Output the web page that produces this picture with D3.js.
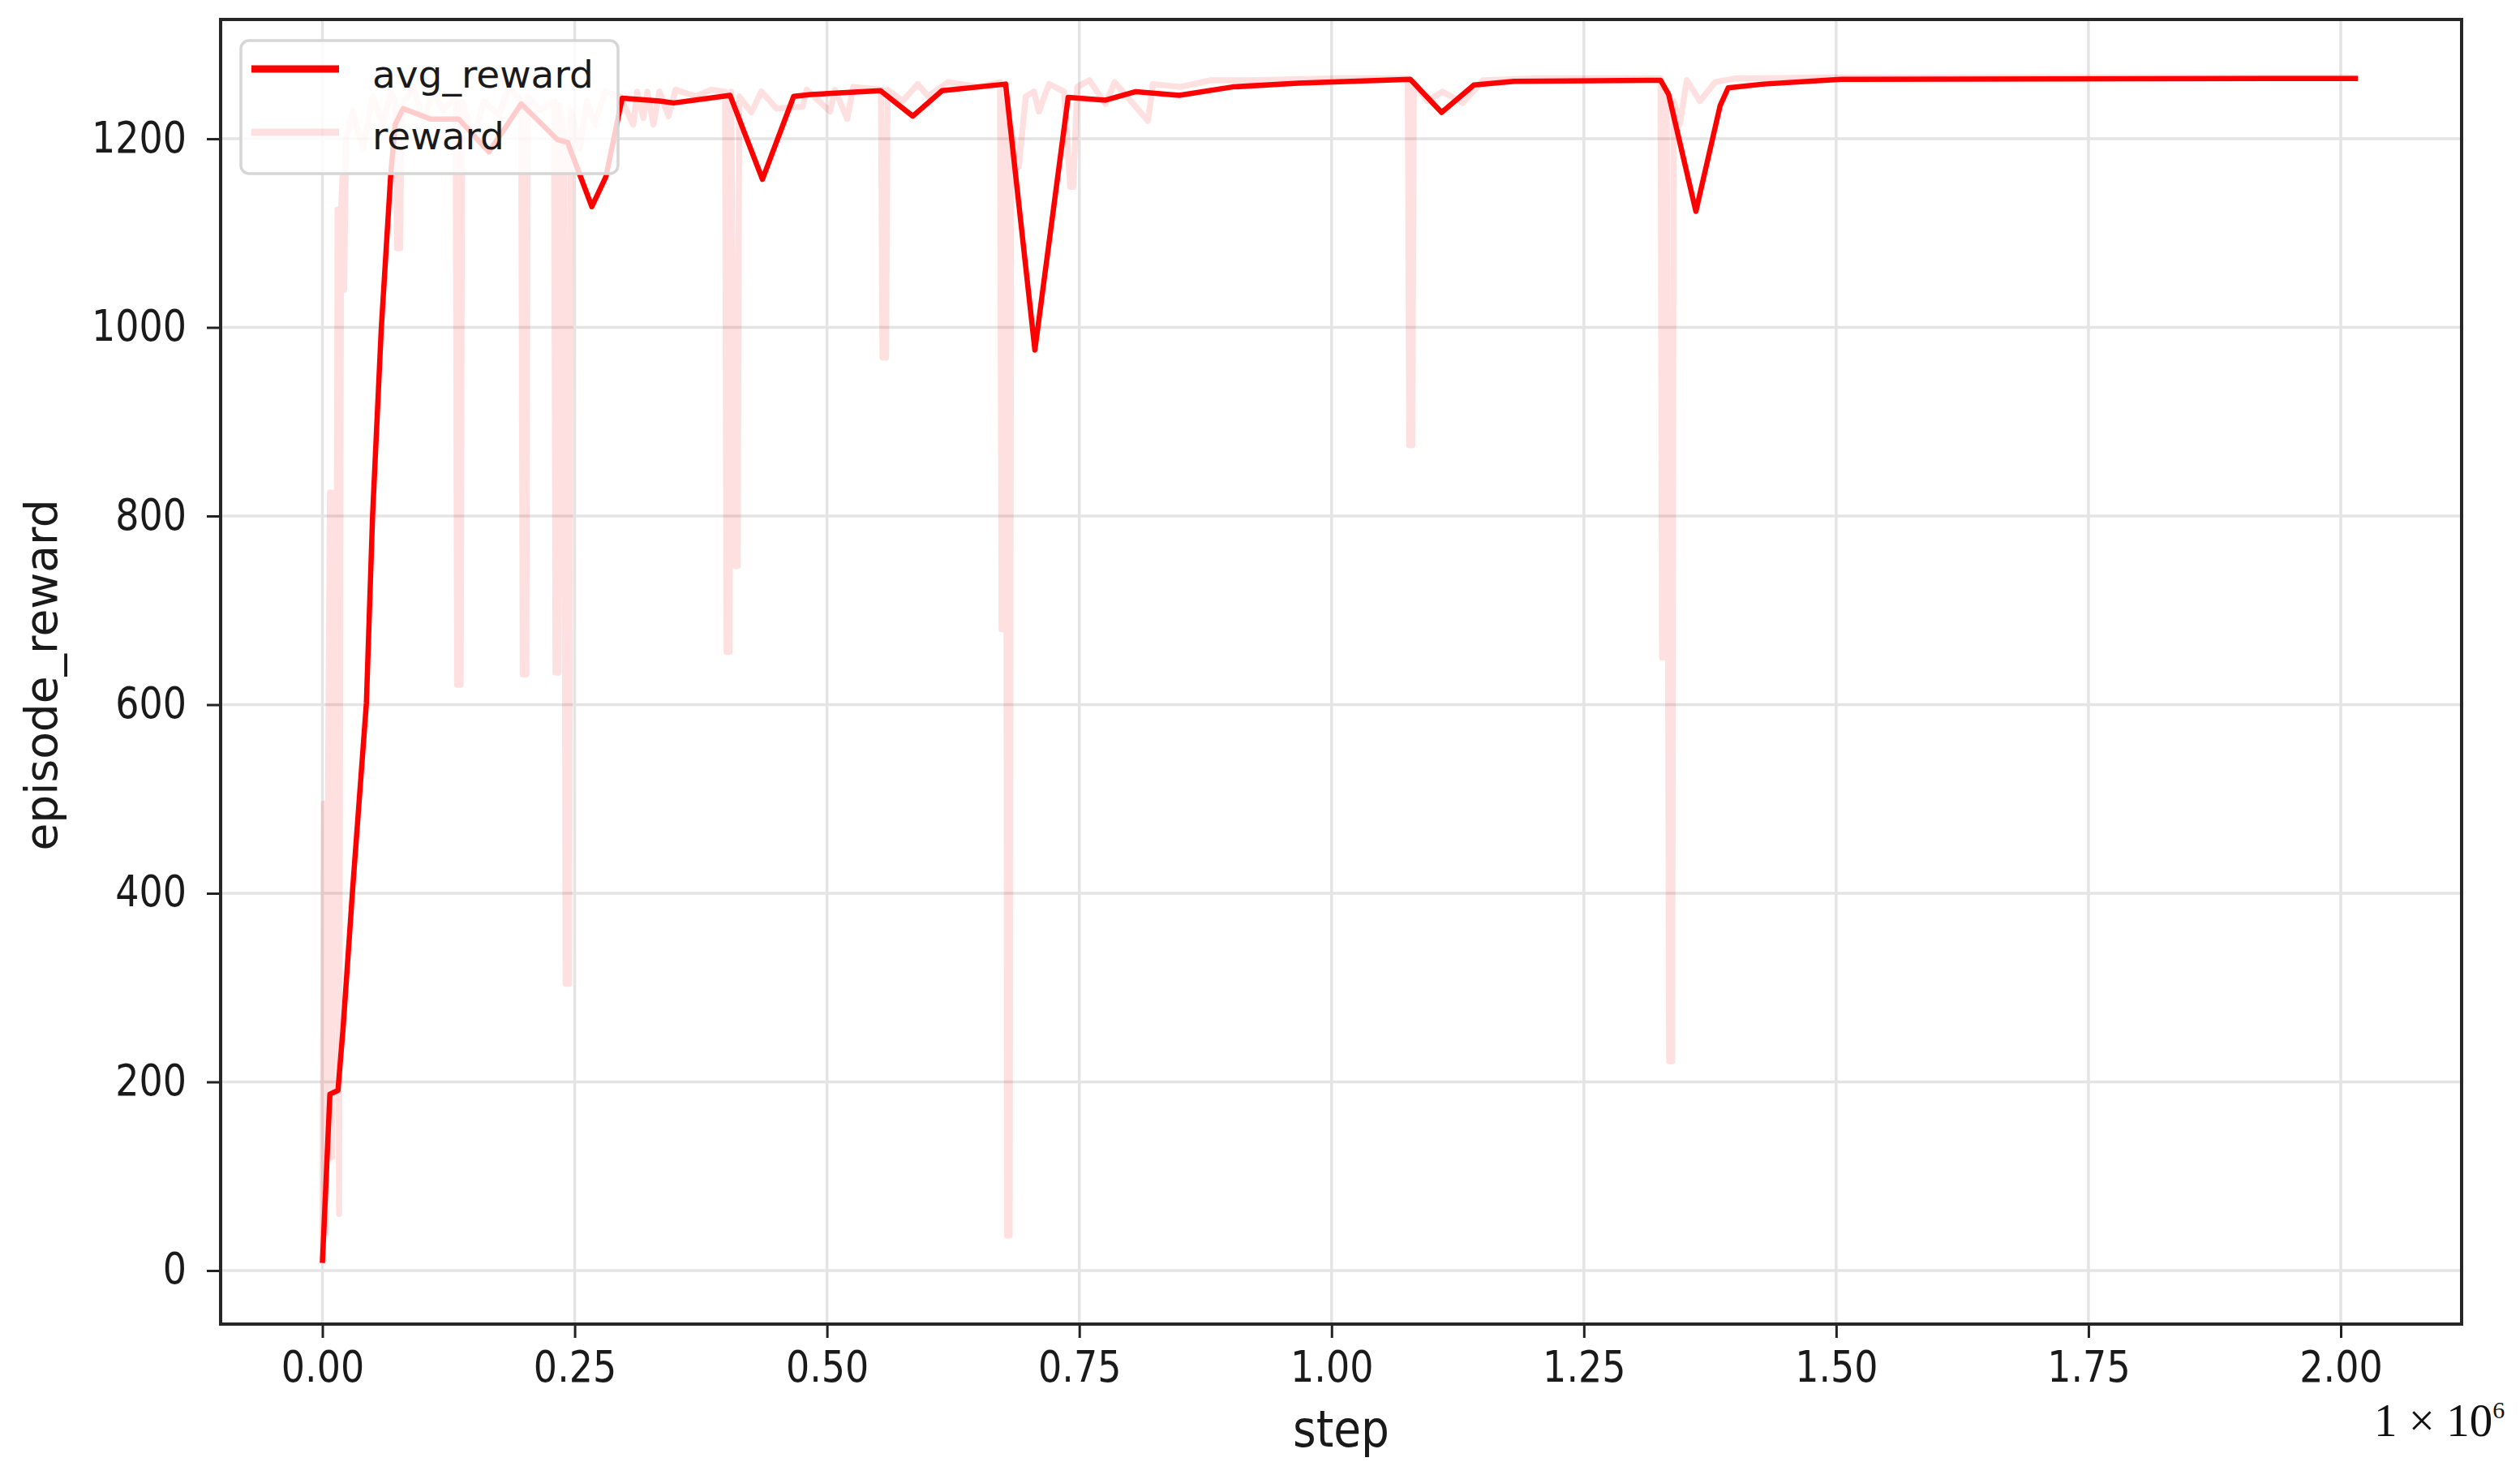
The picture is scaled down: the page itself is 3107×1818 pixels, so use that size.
<!DOCTYPE html>
<html>
<head>
<meta charset="utf-8">
<script src="https://cdn.jsdelivr.net/npm/d3@7"></script>
<style>
  html, body { margin: 0; padding: 0; background: #ffffff; }
  svg { display: block; }
</style>
</head>
<body>
<svg id="chart" width="3107" height="1818"></svg>
<script>
// ---------------- data ----------------
const xTickValues = [0, 250000, 500000, 750000, 1000000, 1250000, 1500000, 1750000, 2000000];
const xTickLabels = ["0.00", "0.25", "0.50", "0.75", "1.00", "1.25", "1.50", "1.75", "2.00"];
const yTickValues = [0, 200, 400, 600, 800, 1000, 1200];
const yTickLabels = ["0", "200", "400", "600", "800", "1000", "1200"];

const seriesNames = ["avg_reward", "reward"];

// avg_reward (solid red)
const avgSteps = [0, 7400, 15400, 20500, 30000, 43600, 49700, 58300, 67700, 72000, 80000, 107000,
  135000, 165000, 197000, 233000, 243000, 267000, 281000, 297000, 334000, 348000, 404000, 436000,
  467000, 484000, 553000, 585000, 614000, 677000, 706000, 739000, 776000, 806000, 849000, 902000,
  967000, 1078000, 1109000, 1141000, 1181000, 1326000, 1334000, 1361000, 1385000, 1393000, 1428000,
  1505000, 2017000];
const avgValues = [8, 187, 191, 257, 405, 602, 800, 998, 1162, 1215, 1232, 1221,
  1221, 1186, 1237, 1199, 1196, 1128, 1160, 1243, 1240, 1238, 1246, 1157,
  1245, 1247, 1251, 1224, 1251, 1258, 976, 1244, 1241, 1250, 1246, 1255,
  1259, 1263, 1228, 1257, 1261, 1262, 1247, 1123, 1235, 1254, 1258,
  1263, 1264];

// reward (light, translucent red)
const rewardSteps = [0, 1500, 3500, 5500, 7500, 9500, 11500, 13500, 15000, 16500, 18500, 20000,
  21500, 23500, 30000, 40000, 50000, 60000, 68000, 72500, 74000, 77000, 78500, 90000, 100000,
  110000, 120000, 132000, 133500, 137000, 138500, 150000, 160000, 175000, 185000, 197000, 198500,
  202000, 203500, 215000, 229500, 231000, 234000, 235500, 239500, 241000, 244500, 246000, 255000,
  262000, 270000, 280000, 295000, 308000, 312000, 318000, 322000, 328000, 334000, 343000, 350000,
  370000, 385000, 399000, 400500, 403500, 405000, 409000, 411500, 413000, 425000, 435000, 450000,
  476000, 480000, 503000, 508000, 520000, 526000, 553500, 555000, 558500, 560000, 575000, 590000,
  600000, 620000, 650000, 671500, 673000, 676000, 677500, 678500, 681000, 682500, 690000, 697000,
  705000, 710000, 720000, 735000, 741000, 744000, 748000, 760000, 776000, 785000, 818000, 823000,
  850000, 880000, 920000, 1000000, 1075500, 1077000, 1080000, 1081500, 1095000, 1110000, 1130000,
  1150000, 1200000, 1260000, 1326000, 1327500, 1330500, 1332000, 1334500, 1337500, 1339000,
  1345000, 1352000, 1365000, 1380000, 1400000, 1500000, 2017000];
const rewardValues = [10, 495, 40, 495, 825, 120, 825, 260, 1125, 60, 1125, 1160,
  1040, 1200, 1230, 1190, 1245, 1215, 1250, 1240, 1084, 1084, 1235, 1255, 1220,
  1250, 1230, 1245, 621, 621, 1240, 1200, 1240, 1225, 1255, 1240, 632,
  632, 1245, 1230, 1240, 634, 634, 1235, 1200, 304, 304, 1230, 1190,
  1240, 1215, 1250, 1245, 1215, 1250, 1222, 1250, 1215, 1250, 1224, 1252,
  1245, 1252, 1250, 656, 656, 1250, 747, 747, 1245, 1228, 1250, 1232,
  1234, 1252, 1229, 1252, 1221, 1255, 1252, 968, 968, 1252, 1240, 1258,
  1245, 1260, 1255, 1260, 680, 680, 1240, 37, 37, 1210, 1170, 1245,
  1250, 1229, 1258, 1250, 1149, 1149, 1255, 1262, 1237, 1260, 1219, 1258,
  1255, 1262, 1262, 1264, 1264, 875, 875, 1260, 1240, 1250, 1238,
  1262, 1264, 1264, 1264, 650, 650, 1250, 222, 222, 1240,
  1215, 1262, 1240, 1260, 1264, 1265, 1265];

const xLabel = "step";
const yLabel = "episode_reward";

// ---------------- layout ----------------
const plot = { left: 272, right: 3035, top: 24, bottom: 1632 };
const svg = d3.select("#chart");

const x = d3.scaleLinear()
  .domain([-100870, 2119750])
  .range([plot.left, plot.right]);
const y = d3.scaleLinear()
  .domain([-56.8, 1326.5])
  .range([plot.bottom, plot.top]);

const FONT = "'DejaVu Sans', 'Liberation Sans', sans-serif";
const tickColor = "#222222";
const gridColor = "#e4e4e4";

svg.append("rect").attr("width", 3107).attr("height", 1818).attr("fill", "#ffffff");

// clip
svg.append("defs").append("clipPath").attr("id", "plotclip")
  .append("rect")
  .attr("x", plot.left).attr("y", plot.top)
  .attr("width", plot.right - plot.left).attr("height", plot.bottom - plot.top);

// grid
const grid = svg.append("g");
grid.selectAll("line.gx").data(xTickValues).join("line")
  .attr("x1", d => x(d)).attr("x2", d => x(d))
  .attr("y1", plot.top).attr("y2", plot.bottom)
  .attr("stroke", gridColor).attr("stroke-width", 3.5);
grid.selectAll("line.gy").data(yTickValues).join("line")
  .attr("y1", d => y(d)).attr("y2", d => y(d))
  .attr("x1", plot.left).attr("x2", plot.right)
  .attr("stroke", gridColor).attr("stroke-width", 3.5);

// lines
const lineGen = d3.line().x(d => x(d[0])).y(d => y(d[1])).curve(d3.curveLinear);
const avgData = avgSteps.map((s, i) => [s, avgValues[i]]);
const rewardData = rewardSteps.map((s, i) => [s, rewardValues[i]]);

const lines = svg.append("g").attr("clip-path", "url(#plotclip)");
lines.append("path")
  .datum(avgData)
  .attr("d", lineGen)
  .attr("fill", "none")
  .attr("stroke", "#ff0000")
  .attr("stroke-width", 6.5)
  .attr("stroke-linejoin", "round")
  .attr("stroke-linecap", "butt");
lines.append("path")
  .datum(rewardData)
  .attr("d", lineGen)
  .attr("fill", "none")
  .attr("stroke", "#ff0000")
  .attr("stroke-opacity", 0.12)
  .attr("stroke-width", 7.5)
  .attr("stroke-linejoin", "round")
  .attr("stroke-linecap", "butt");

// axes via d3-axis
const xAxis = d3.axisBottom(x)
  .tickValues(xTickValues)
  .tickFormat((d, i) => xTickLabels[i])
  .tickSize(17).tickPadding(14);
const yAxis = d3.axisLeft(y)
  .tickValues(yTickValues)
  .tickFormat((d, i) => yTickLabels[i])
  .tickSize(17).tickPadding(26);

const gx = svg.append("g").attr("transform", `translate(0,${plot.bottom})`).call(xAxis);
const gy = svg.append("g").attr("transform", `translate(${plot.left},0)`).call(yAxis);
[gx, gy].forEach(g => {
  g.select(".domain").remove();
  g.selectAll(".tick line").attr("stroke", tickColor).attr("stroke-width", 3);
  g.selectAll(".tick text")
    .attr("fill", "#1a1a1a")
    .style("font-family", FONT)
    .style("font-size", "46px");
});
// slight vertical stretch of tick labels as in the reference raster
gx.selectAll(".tick text").attr("y", 0).attr("dy", 0)
  .attr("transform", "translate(0,71) scale(1,1.15)");
gy.selectAll(".tick text").attr("dy", 0).attr("x", 0)
  .attr("transform", "translate(-42,16) scale(1,1.15)");

// frame
svg.append("rect")
  .attr("x", plot.left).attr("y", plot.top)
  .attr("width", plot.right - plot.left).attr("height", plot.bottom - plot.top)
  .attr("fill", "none").attr("stroke", "#262626").attr("stroke-width", 4);

// axis labels
svg.append("text")
  .attr("transform", `translate(${(plot.left + plot.right) / 2},1783) scale(1,1.12)`)
  .attr("text-anchor", "middle")
  .style("font-family", FONT).style("font-size", "55px").attr("fill", "#1a1a1a")
  .text(xLabel);
svg.append("text")
  .attr("transform", "translate(70,832) rotate(-90)")
  .attr("text-anchor", "middle")
  .style("font-family", FONT).style("font-size", "55px").attr("fill", "#1a1a1a")
  .text(yLabel);

// offset text "1 × 10^6"
const off = svg.append("text")
  .attr("x", 2927).attr("y", 1770)
  .style("font-family", "'Liberation Serif', 'Times New Roman', serif")
  .style("font-size", "57px").attr("fill", "#111111");
off.append("tspan").text("1 × 10");
off.append("tspan").attr("dy", -22).style("font-size", "30px").text("6");

// legend
const leg = svg.append("g");
leg.append("rect")
  .attr("x", 297).attr("y", 50).attr("width", 465).attr("height", 164)
  .attr("rx", 10).attr("ry", 10)
  .attr("fill", "#ffffff").attr("fill-opacity", 0.8)
  .attr("stroke", "#d6d6d6").attr("stroke-width", 3.5);
const legItems = [
  { name: seriesNames[0], opacity: 1, ly: 85, ty: 108 },
  { name: seriesNames[1], opacity: 0.12, ly: 163, ty: 184 }
];
legItems.forEach(it => {
  leg.append("line")
    .attr("x1", 310).attr("x2", 418).attr("y1", it.ly).attr("y2", it.ly)
    .attr("stroke", "#ff0000").attr("stroke-opacity", it.opacity).attr("stroke-width", 9);
  leg.append("text")
    .attr("x", 459).attr("y", it.ty)
    .style("font-family", FONT).style("font-size", "47px").attr("fill", "#1a1a1a")
    .text(it.name);
});
</script>
</body>
</html>
